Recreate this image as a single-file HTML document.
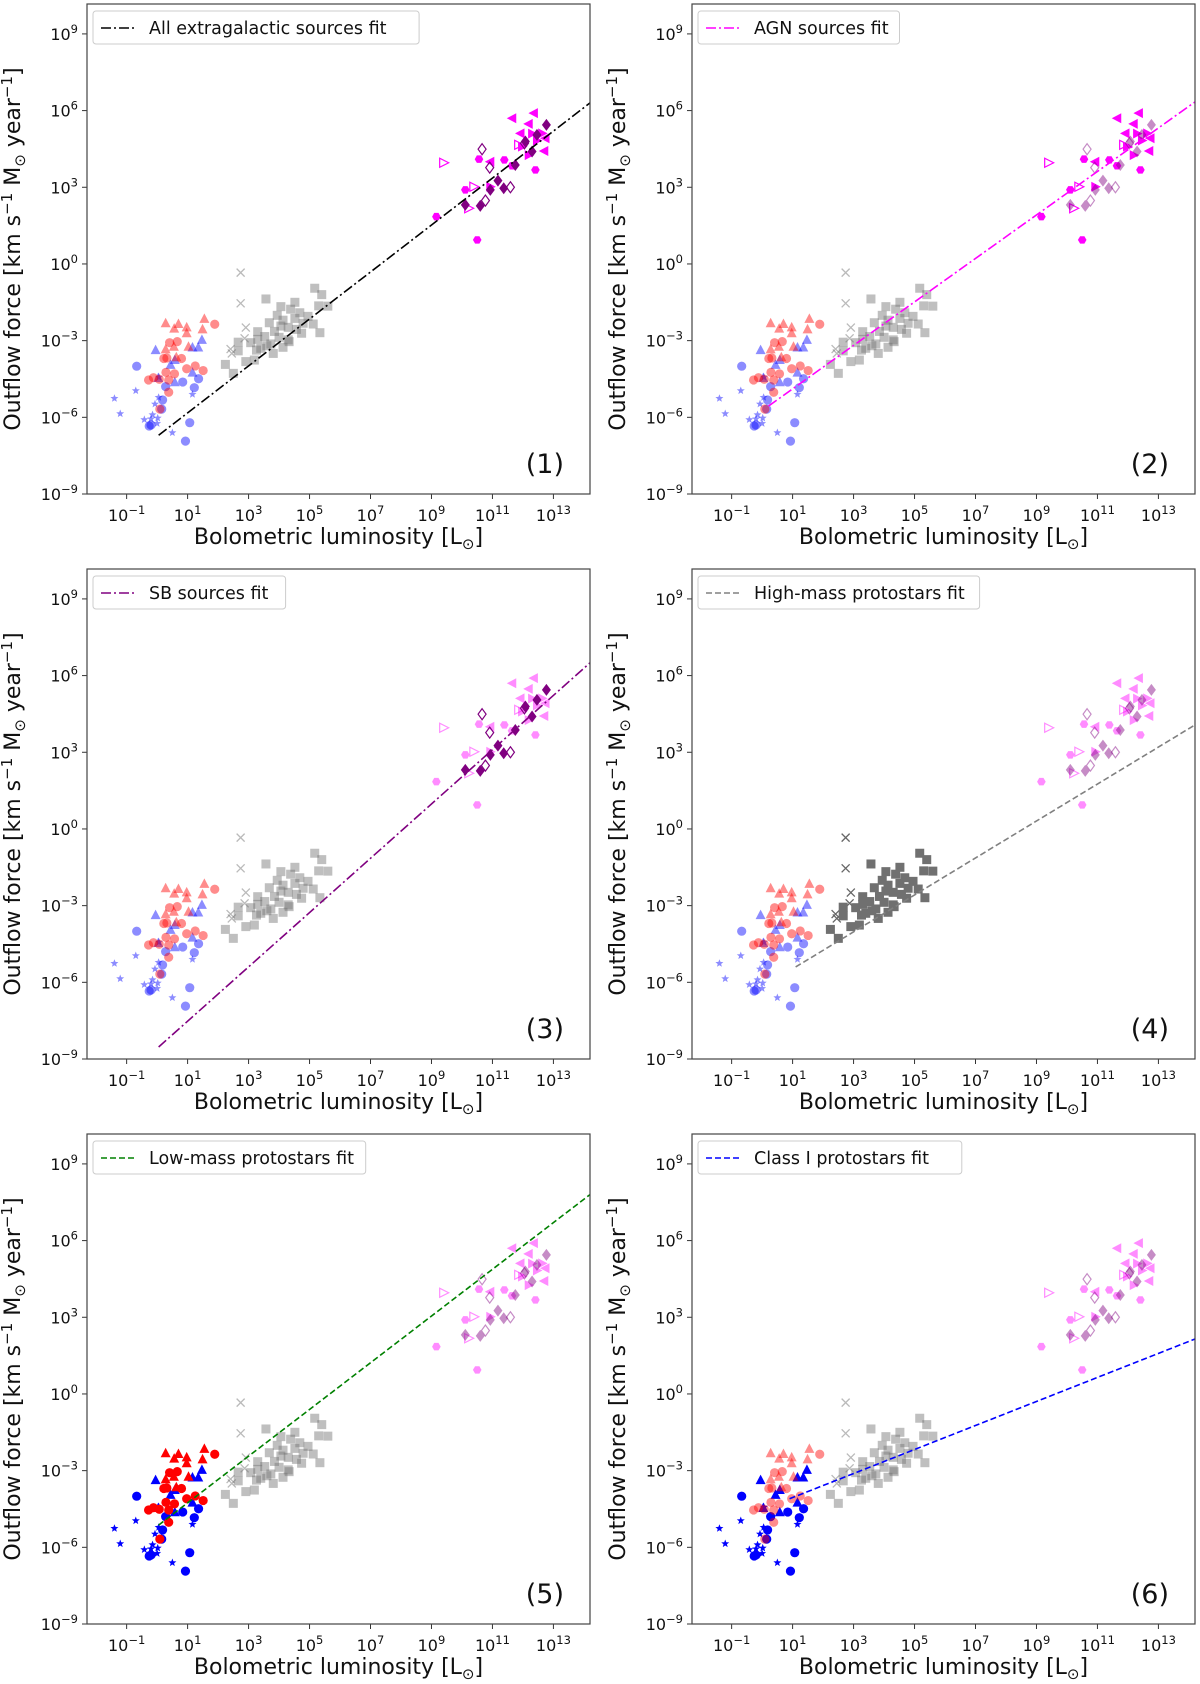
<!DOCTYPE html>
<html><head><meta charset="utf-8">
<style>
html,body{margin:0;padding:0;background:#fff;}
svg{display:block;font-family:"DejaVu Sans","Liberation Sans",sans-serif;}
</style></head>
<body>
<svg id="fig" width="1200" height="1684" viewBox="0 0 1200 1684" xmlns="http://www.w3.org/2000/svg"></svg>
<script>
// ---- data (log10 L, log10 F) ----
const blueStarL=[-1.40,-1.21,-0.70,-0.42,-0.15,0.00,-0.07,0.05,0.02,0.06,1.16,0.50,-0.20];
const blueStarF=[-5.26,-5.86,-4.96,-6.09,-5.90,-6.24,-5.48,-5.22,-6.03,-4.43,-5.10,-6.60,-6.06];
const blueCircL=[-0.67,-0.26,-0.20,0.18,0.15,0.28,0.84,1.22,1.36,1.07,0.93];
const blueCircF=[-4.00,-6.34,-6.30,-5.32,-5.68,-4.80,-4.62,-4.84,-4.49,-6.21,-6.93];
const blueTriL=[-0.05,0.44,0.58,1.16,1.35,1.47,0.58,1.16,0.04];
const blueTriF=[-3.37,-3.95,-3.76,-3.27,-3.27,-2.97,-4.63,-4.25,-4.46];
const redCircL=[0.41,0.66,0.22,0.32,0.80,0.29,0.57,0.97,1.25,1.51,-0.28,-0.12,0.38,0.07,0.38,0.09,1.89];
const redCircF=[-3.08,-3.04,-3.70,-3.68,-3.70,-4.24,-4.30,-4.10,-3.99,-4.17,-4.54,-4.45,-4.54,-4.51,-5.02,-5.68,-2.36];
const redTriL=[0.28,0.56,0.70,0.97,0.97,1.55,1.49,0.28,0.55,1.03,0.63];
const redTriF=[-2.32,-2.53,-2.35,-2.48,-2.71,-2.15,-2.56,-3.34,-3.24,-3.24,-3.65];
const greyXL=[2.74,2.91,2.87,2.41,2.45,2.74];
const greyXF=[-1.54,-2.49,-2.91,-3.33,-3.50,-0.34];
const greySqL=[2.24,2.50,2.66,2.66,2.91,3.07,3.30,3.30,3.26,3.19,3.57,3.68,3.53,3.73,3.81,4.06,4.06,4.00,4.13,4.38,4.30,4.30,4.52,4.52,4.57,4.68,4.79,4.74,3.94,4.13,3.85,4.33,3.60,3.40,5.17,5.30,5.12,5.34,4.95,5.60,5.40];
const greySqF=[-3.93,-4.28,-3.06,-3.40,-3.82,-3.08,-2.65,-2.95,-3.37,-3.76,-1.37,-2.30,-2.84,-3.13,-3.50,-1.67,-2.43,-2.87,-3.26,-1.77,-2.48,-2.97,-1.50,-2.13,-2.56,-1.91,-2.32,-2.71,-2.01,-2.20,-2.64,-3.04,-3.20,-3.30,-0.95,-1.64,-2.35,-2.69,-2.05,-1.65,-1.20];
const agnLeftL=[11.65,12.36,12.19,11.92,12.74,12.70,10.93];
const agnLeftF=[5.70,5.90,5.48,5.11,4.92,4.42,4.00];
const agnRightL=[11.97,12.19,12.30,12.63,10.93,12.46];
const agnRightF=[4.59,4.26,5.10,5.11,3.02,4.83];
const agnPentL=[10.56,11.39,11.64,12.41,10.11,10.50,9.16];
const agnPentF=[4.10,4.07,3.84,3.68,2.90,0.94,1.85];
const agnOpenL=[9.40,10.39,10.22,11.86];
const agnOpenF=[3.96,3.02,2.18,4.66];
const sbDiaL=[10.11,10.60,10.93,11.18,11.37,11.75,12.08,12.30,12.46,12.77];
const sbDiaF=[2.31,2.27,2.90,3.26,2.96,3.87,4.79,4.40,5.05,5.44];
const sbOpenL=[10.66,10.91,11.59,10.77,12.05];
const sbOpenF=[4.49,3.77,3.00,2.48,4.72];
// fit lines: endpoints in log space
const fitX0=[0.05,0.21,0.05,1.10,0.05,0.90];
const fitX1=[14.2,14.2,14.2,14.2,14.2,14.2];
const fitY0=[-6.7,-5.56,-8.53,-5.40,-5.13,-4.10];
const fitY1=[6.3,6.34,6.5,4.07,7.8,2.15];
const fitNames=["All extragalactic sources fit","AGN sources fit","SB sources fit","High-mass protostars fit","Low-mass protostars fit","Class I protostars fit"];
const fitColors=["#000000","#ff00ff","#800080","#808080","#008000","#0000ff"];
const fitDash=["10,3,2,3","10,3,2,3","10,3,2,3","6,3","6,3","6,3"];
const xTicks=[-1,1,3,5,7,9,11,13];
const yTicks=[-9,-6,-3,0,3,6,9];

const NS="http://www.w3.org/2000/svg";
const svg=document.getElementById('fig');
function el(tag,attrs,parent){const e=document.createElementNS(NS,tag);for(const k in attrs)e.setAttribute(k,attrs[k]);(parent||svg).appendChild(e);return e;}
const XMIN=-2.3,XMAX=14.2,YMIN=-9,YMAX=10.17;
const PW=503,PH=490;
const lefts=[87,692],tops=[4,569,1134];
const solid=[
 {agn:1,sb:1},{agn:1},{sb:1},{grey:1},{blue:1,red:1},{blue:1}
];
function marker(g,shape,cx,cy,color,op){
  let e;const r=4.6;
  if(shape==='circle'){e=el('circle',{cx:cx,cy:cy,r:r,fill:color,'fill-opacity':op},g);}
  else if(shape==='square'){e=el('rect',{x:cx-4.5,y:cy-4.5,width:9,height:9,fill:color,'fill-opacity':op},g);}
  else if(shape==='triUp'){e=el('polygon',{points:`${cx},${cy-5.5} ${cx-5},${cy+4} ${cx+5},${cy+4}`,fill:color,'fill-opacity':op},g);}
  else if(shape==='triLeft'){e=el('polygon',{points:`${cx-5.5},${cy} ${cx+4},${cy-5} ${cx+4},${cy+5}`,fill:color,'fill-opacity':op},g);}
  else if(shape==='triRight'){e=el('polygon',{points:`${cx+5.5},${cy} ${cx-4},${cy-5} ${cx-4},${cy+5}`,fill:color,'fill-opacity':op},g);}
  else if(shape==='triRightOpen'){e=el('polygon',{points:`${cx+5},${cy} ${cx-4},${cy-4.5} ${cx-4},${cy+4.5}`,fill:'none',stroke:color,'stroke-width':1.2,'stroke-opacity':op},g);}
  else if(shape==='diamond'){e=el('polygon',{points:`${cx},${cy-6} ${cx+4.5},${cy} ${cx},${cy+6} ${cx-4.5},${cy}`,fill:color,'fill-opacity':op},g);}
  else if(shape==='diamondOpen'){e=el('polygon',{points:`${cx},${cy-5.5} ${cx+4},${cy} ${cx},${cy+5.5} ${cx-4},${cy}`,fill:'none',stroke:color,'stroke-width':1.2,'stroke-opacity':op},g);}
  else if(shape==='pent'){let p=[];for(let i=0;i<6;i++){const a=Math.PI/3*i;p.push((cx+4.3*Math.cos(a)).toFixed(1)+','+(cy+4.3*Math.sin(a)).toFixed(1));}e=el('polygon',{points:p.join(' '),fill:color,'fill-opacity':op},g);}
  else if(shape==='star'){let p=[];for(let i=0;i<10;i++){const a=-Math.PI/2+Math.PI/5*i;const rr=i%2?1.8:4.2;p.push((cx+rr*Math.cos(a)).toFixed(1)+','+(cy+rr*Math.sin(a)).toFixed(1));}e=el('polygon',{points:p.join(' '),fill:color,'fill-opacity':op},g);}
  else if(shape==='x'){e=el('path',{d:`M${cx-4},${cy-4}L${cx+4},${cy+4}M${cx-4},${cy+4}L${cx+4},${cy-4}`,stroke:color,'stroke-width':1.3,'stroke-opacity':op},g);}
  
  
}
const series=[
 {grp:'blue',L:blueStarL,F:blueStarF,shape:'star',color:'#0000ff'},
 {grp:'blue',L:blueCircL,F:blueCircF,shape:'circle',color:'#0000ff'},
 {grp:'blue',L:blueTriL,F:blueTriF,shape:'triUp',color:'#0000ff'},
 {grp:'red',L:redCircL,F:redCircF,shape:'circle',color:'#ff0000'},
 {grp:'red',L:redTriL,F:redTriF,shape:'triUp',color:'#ff0000'},
 {grp:'grey',L:greyXL,F:greyXF,shape:'x',color:'#666666'},
 {grp:'grey',L:greySqL,F:greySqF,shape:'square',color:'#707070'},
 {grp:'agn',L:agnLeftL,F:agnLeftF,shape:'triLeft',color:'#ff00ff'},
 {grp:'agn',L:agnRightL,F:agnRightF,shape:'triRight',color:'#ff00ff'},
 {grp:'agn',L:agnPentL,F:agnPentF,shape:'pent',color:'#ff00ff'},
 {grp:'agn',L:agnOpenL,F:agnOpenF,shape:'triRightOpen',color:'#ff00ff'},
 {grp:'sb',L:sbDiaL,F:sbDiaF,shape:'diamond',color:'#800080'},
 {grp:'sb',L:sbOpenL,F:sbOpenF,shape:'diamondOpen',color:'#800080'}
];
for(let p=0;p<6;p++){
  const left=lefts[p%2],top=tops[Math.floor(p/2)];
  const sx=v=>left+(v-XMIN)/(XMAX-XMIN)*PW;
  const sy=v=>top+PH-(v-YMIN)/(YMAX-YMIN)*PH;
  const g=el('g',{});
  
  
  xTicks.forEach(t=>{const x=sx(t);el('line',{x1:x,y1:top+PH,x2:x,y2:top+PH+5,stroke:'#333','stroke-width':1},g);
    const tx=el('text',{x:x,y:top+PH+27,'font-size':16,'text-anchor':'middle',fill:'#111'},g);
    
    tx.innerHTML='10<tspan dy="-7" font-size="11.5">'+(t<0?'\u2212'+(-t):t)+'</tspan>';});
  yTicks.forEach(t=>{const y=sy(t);el('line',{x1:left-5,y1:y,x2:left,y2:y,stroke:'#333','stroke-width':1},g);
    const tx=el('text',{x:left-9,y:y+6,'font-size':16,'text-anchor':'end',fill:'#111'},g);
    
    tx.innerHTML='10<tspan dy="-7" font-size="11.5">'+(t<0?'\u2212'+(-t):t)+'</tspan>';});
  series.forEach(s=>{const op=solid[p][s.grp]?1:0.45;
    for(let i=0;i<s.L.length;i++){marker(g,s.shape,sx(s.L[i]),sy(s.F[i]),s.color,op);}});
  const fl=el('line',{x1:sx(fitX0[p]),y1:sy(fitY0[p]),x2:sx(fitX1[p]),y2:sy(fitY1[p]),stroke:fitColors[p],'stroke-width':1.6,'stroke-dasharray':fitDash[p]},g);
  
  el('rect',{x:left,y:top,width:PW,height:PH,fill:'none',stroke:'#444','stroke-width':1.2},g);
  const lg=el('g',{},g);
  
  const tw=fitNames[p].length*8.9+68;
  el('rect',{x:left+6,y:top+7,width:tw,height:33,rx:3,fill:'#fff',stroke:'#ccc','stroke-width':1},lg);
  el('line',{x1:left+14,y1:top+24,x2:left+50,y2:top+24,stroke:fitColors[p],'stroke-width':1.6,'stroke-dasharray':fitDash[p]},lg);
  const lt=el('text',{x:left+62,y:top+30,'font-size':17.5,fill:'#111'},lg);
  
  lt.textContent=fitNames[p];
  const pn=el('text',{x:left+PW-26,y:top+PH-21,'font-size':27,'text-anchor':'end',fill:'#111'},g);
  
  pn.textContent='('+(p+1)+')';
  const xl=el('text',{x:left+PW/2,y:top+PH+50,'font-size':22,'text-anchor':'middle',fill:'#111'},g);
  
  xl.innerHTML='Bolometric luminosity [L<tspan dy="5" font-size="15">\u2299</tspan><tspan dy="-5">]</tspan>';
  const yx=left-67,yy=top+PH/2;
  const yl=el('text',{x:yx,y:yy,'font-size':22,'text-anchor':'middle',fill:'#111',transform:`rotate(-90 ${yx} ${yy})`},g);
  
  yl.innerHTML='Outflow force [km s<tspan dy="-8" font-size="15">\u22121</tspan><tspan dy="8"> M</tspan><tspan dy="5" font-size="15">\u2299</tspan><tspan dy="-5"> year</tspan><tspan dy="-8" font-size="15">\u22121</tspan><tspan dy="8">]</tspan>';
}
</script>
</body></html>
